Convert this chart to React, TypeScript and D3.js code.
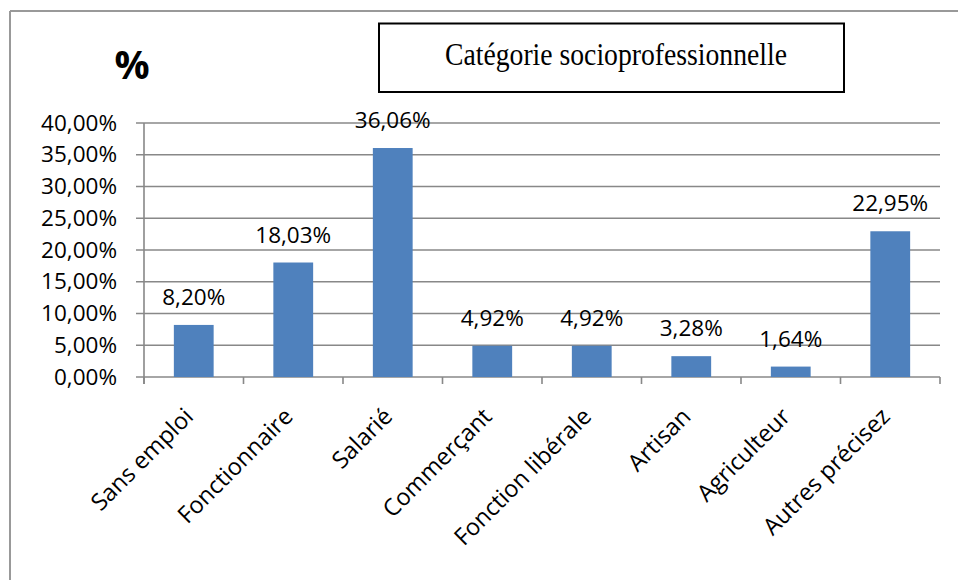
import React from "react";
import * as d3 from "d3";

const categories = [
  "Sans emploi",
  "Fonctionnaire",
  "Salarié",
  "Commerçant",
  "Fonction libérale",
  "Artisan",
  "Agriculteur",
  "Autres précisez",
];
const values = [8.2, 18.03, 36.06, 4.92, 4.92, 3.28, 1.64, 22.95];
const yTicks = [0, 5, 10, 15, 20, 25, 30, 35, 40];
const title = "Catégorie socioprofessionnelle";

const W = 958;
const H = 580;
const FONT = "'Open Sans', 'DejaVu Sans', sans-serif";
const fmt = (v: number) => v.toFixed(2).replace(".", ",") + "%";

export default function App() {
  const left = 144;
  const right = 940;
  const top = 123;
  const bottom = 377;
  const x = d3.scaleBand<string>().domain(categories).range([left, right]).paddingInner(0.6).paddingOuter(0.3);
  const y = d3.scaleLinear().domain([0, 40]).range([bottom, top]);
  const bounds = categories.map((_, i) => left + i * ((right - left) / categories.length));
  bounds.push(right);
  const bandCenter = (c: string) => (x(c) as number) + x.bandwidth() / 2;
  const grid = "#888888";

  return (
    <svg
      width={W}
      height={H}
      style={{ position: "absolute", left: 0, top: 0, background: "#fff" }}
    >
      <rect x={0} y={0} width={W} height={H} fill="#fff" />
      {/* outer chart border */}
      <line x1={10} y1={11} x2={W} y2={11} stroke="#999" strokeWidth={2} />
      <line x1={10} y1={11} x2={10} y2={H} stroke="#999" strokeWidth={2} />

      {/* % label */}
      <text x={132} y={79} textAnchor="middle" fontFamily={FONT} fontWeight="bold" fontSize={39} fill="#000">
        %
      </text>

      {/* title box */}
      <rect x={379} y={23.5} width={465} height={68.5} fill="#fff" stroke="#000" strokeWidth={2} />
      <text
        x={445}
        y={65}
        textLength={342}
        lengthAdjust="spacingAndGlyphs"
        fontFamily="'Liberation Serif', 'Times New Roman', serif"
        fontSize={31}
        fill="#000"
      >
        {title}
      </text>

      {/* gridlines */}
      {yTicks.map((t) => (
        <g key={t}>
          <line x1={136} x2={right} y1={y(t)} y2={y(t)} stroke={grid} strokeWidth={1.6} />
          <text x={117} y={y(t) + 7.5} textAnchor="end" fontFamily={FONT} fontSize={22.5} fill="#000">
            {fmt(t)}
          </text>
        </g>
      ))}
      {/* y axis */}
      <line x1={left} x2={left} y1={top} y2={bottom + 7} stroke={grid} strokeWidth={1.6} />
      {/* category ticks */}
      {bounds.map((b, i) => (
        <line key={i} x1={b} x2={b} y1={bottom} y2={bottom + 7} stroke={grid} strokeWidth={1.6} />
      ))}

      {/* bars */}
      {categories.map((c, i) => (
        <rect
          key={c}
          x={x(c)}
          y={y(values[i])}
          width={x.bandwidth()}
          height={bottom - y(values[i])}
          fill="#4F81BD"
        />
      ))}

      {/* value labels */}
      {categories.map((c, i) => (
        <text
          key={c}
          x={bandCenter(c)}
          y={y(values[i]) - 20}
          textAnchor="middle"
          fontFamily={FONT}
          fontSize={22.5}
          fill="#000"
        >
          {fmt(values[i])}
        </text>
      ))}

      {/* x labels */}
      {categories.map((c) => (
        <text
          key={c}
          transform={`translate(${bandCenter(c) + 1},${418}) rotate(-45)`}
          textAnchor="end"
          fontFamily={FONT}
          fontSize={23.5}
          fill="#000"
        >
          {c}
        </text>
      ))}
    </svg>
  );
}
